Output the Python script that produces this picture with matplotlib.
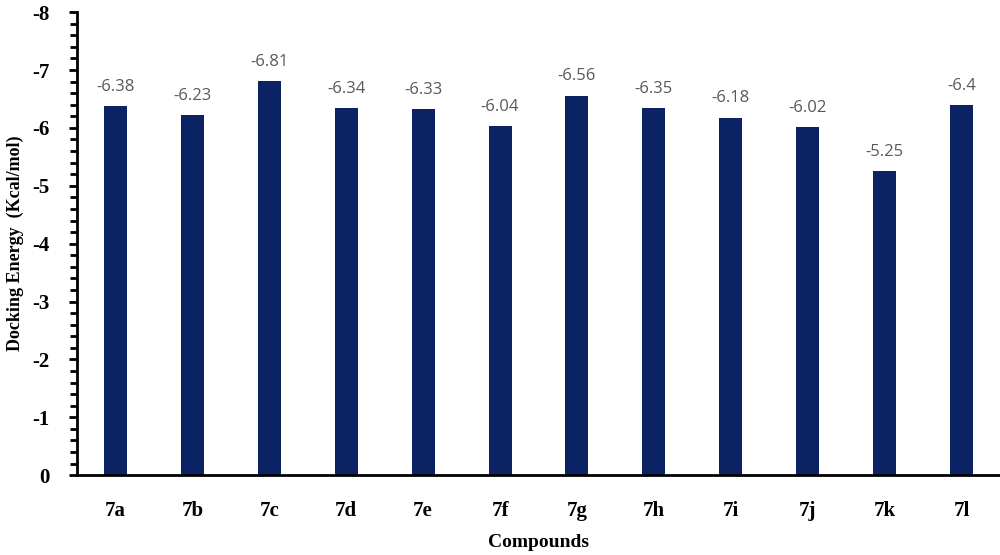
import numpy as np
import matplotlib
matplotlib.use("Agg")
from matplotlib import pyplot as plt
from matplotlib.ticker import MultipleLocator

compounds = ["7a", "7b", "7c", "7d", "7e", "7f", "7g", "7h", "7i", "7j", "7k", "7l"]
energy = [-6.38, -6.23, -6.81, -6.34, -6.33, -6.04, -6.56, -6.35, -6.18, -6.02, -5.25, -6.4]
value_labels = ["-6.38", "-6.23", "-6.81", "-6.34", "-6.33", "-6.04", "-6.56", "-6.35", "-6.18", "-6.02", "-5.25", "-6.4"]

serif = "Liberation Serif"

fig = plt.figure(figsize=(10, 5.55), dpi=100)
ax = fig.add_axes([0.077, 0.144, 0.923, 0.834])

x = np.arange(len(compounds))
ax.bar(x, energy, width=0.3, color="#0b2263")

for xi, v, lab in zip(x, energy, value_labels):
    ax.annotate(lab, (xi, v), xytext=(0, 8), textcoords="offset points",
                ha="center", va="bottom", color="#595959", fontsize=12,
                family="Open Sans")

ax.set_ylim(0, -8)
ax.set_xlim(-0.5, 11.5)
ax.yaxis.set_minor_locator(MultipleLocator(0.2))
ax.set_yticks(np.arange(0, -9, -1))
ax.set_yticklabels([str(int(t)) for t in np.arange(0, -9, -1)])

ax.set_xticks(x)
ax.set_xticklabels(compounds)

for lab in ax.get_xticklabels() + ax.get_yticklabels():
    lab.set_family(serif)
    lab.set_fontweight("bold")
    lab.set_fontsize(15)

ax.tick_params(axis="y", which="major", direction="out", length=6, width=2, pad=14)
ax.tick_params(axis="y", which="minor", direction="out", length=5, width=2)
ax.tick_params(axis="x", length=0, pad=19)

for s in ["top", "right"]:
    ax.spines[s].set_visible(False)
ax.spines["left"].set_linewidth(2)
ax.spines["bottom"].set_linewidth(2)

ax.set_xlabel("Compounds", family=serif, fontweight="bold", fontsize=14, labelpad=9)
ax.set_ylabel("Docking Energy  (Kcal/mol)", family=serif, fontweight="bold", fontsize=13, labelpad=6)

plt.savefig("out.png", dpi=100)
plt.close()
